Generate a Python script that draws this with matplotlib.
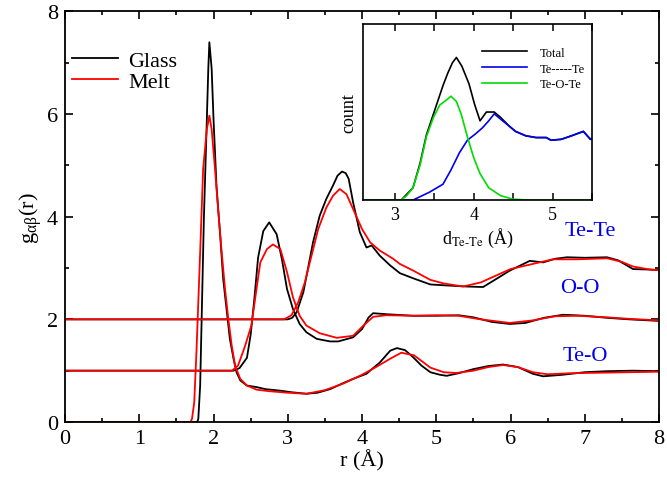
import matplotlib
matplotlib.use('Agg')
import matplotlib.pyplot as plt
from matplotlib.ticker import MultipleLocator

plt.rcParams['font.family'] = ['Liberation Serif', 'DejaVu Serif']
plt.rcParams['mathtext.fontset'] = 'stix'

# ---- main panel data: g(r) curves (O-O shifted by 1, Te-Te shifted by 2) ----
teo_glass_r = [0, 1.78, 1.795, 1.82, 1.84, 1.87, 1.91, 1.93, 1.944, 1.975, 2.0, 2.04, 2.09, 2.13,
               2.18, 2.22, 2.27, 2.31, 2.36, 2.45, 2.58, 2.7, 2.9, 3.05, 3.25, 3.4, 3.57, 3.75, 3.88,
               4.06, 4.24, 4.38, 4.47, 4.58, 4.69, 4.8, 4.92, 5.05, 5.14, 5.3, 5.5, 5.7, 5.9, 6.1,
               6.3, 6.44, 6.7, 7.0, 7.3, 7.65, 8.0]
teo_glass_g = [0, 0, 0.06, 0.71, 2.0, 3.96, 5.9, 6.9, 7.40, 6.88, 5.9, 4.6, 3.63, 2.79,
               2.14, 1.62, 1.23, 0.97, 0.81, 0.71, 0.68, 0.64, 0.61, 0.58, 0.55, 0.57, 0.64, 0.76, 0.84,
               0.94, 1.16, 1.39, 1.44, 1.40, 1.26, 1.10, 0.97, 0.92, 0.90, 0.95, 1.03, 1.09, 1.12, 1.07,
               0.94, 0.89, 0.92, 0.97, 0.99, 1.0, 0.99]
teo_melt_r = [0, 1.69, 1.71, 1.74, 1.77, 1.82, 1.86, 1.91, 1.944, 1.975, 2.02, 2.065, 2.11, 2.155,
              2.2, 2.245, 2.29, 2.36, 2.45, 2.58, 2.75, 3.0, 3.25, 3.5, 3.75, 4.0, 4.2, 4.4, 4.53,
              4.7, 4.92, 5.1, 5.27, 5.5, 5.7, 5.9, 6.1, 6.3, 6.5, 6.8, 7.2, 7.6, 8.0]
teo_melt_g = [0, 0, 0.06, 0.38, 1.36, 3.31, 4.93, 5.7, 5.97, 5.7, 4.93, 4.09, 3.31, 2.59,
              2.0, 1.49, 1.10, 0.84, 0.71, 0.63, 0.60, 0.57, 0.55, 0.62, 0.75, 0.92, 1.08, 1.25, 1.35,
              1.30, 1.06, 0.97, 0.955, 1.0, 1.07, 1.11, 1.07, 0.97, 0.93, 0.95, 0.96, 0.97, 0.98]

oo_glass_r = [0, 2.27, 2.35, 2.45, 2.50, 2.55, 2.60, 2.67, 2.75, 2.85, 2.92, 2.99, 3.07, 3.16,
              3.25, 3.39, 3.57, 3.68, 3.88, 4.0, 4.09, 4.15, 4.33, 4.69, 5.0, 5.3, 5.5, 5.75, 5.99,
              6.2, 6.45, 6.71, 7.0, 7.3, 7.6, 8.0]
oo_glass_g = [1, 1.0, 1.05, 1.25, 1.7, 2.4, 3.2, 3.72, 3.89, 3.66, 3.18, 2.59, 2.20, 1.91,
              1.75, 1.62, 1.57, 1.57, 1.65, 1.81, 2.04, 2.12, 2.10, 2.07, 2.07, 2.08, 2.04, 1.95, 1.91,
              1.93, 2.03, 2.09, 2.07, 2.03, 2.0, 1.97]
oo_melt_r = [0, 2.25, 2.33, 2.42, 2.51, 2.57, 2.63, 2.72, 2.80, 2.90, 2.99, 3.07, 3.16, 3.25,
             3.43, 3.66, 3.88, 4.02, 4.15, 4.33, 4.7, 5.0, 5.3, 5.6, 5.99, 6.3, 6.6, 6.9, 7.3,
             7.6, 8.0]
oo_melt_g = [1, 1.0, 1.10, 1.46, 1.88, 2.5, 3.11, 3.37, 3.46, 3.37, 2.92, 2.43, 2.07, 1.88,
             1.73, 1.64, 1.68, 1.88, 2.05, 2.08, 2.07, 2.08, 2.07, 2.0, 1.93, 1.98, 2.06, 2.07, 2.04,
             2.01, 1.98]

tete_glass_r = [0, 3.0, 3.06, 3.12, 3.21, 3.28, 3.34, 3.43, 3.52, 3.61, 3.67, 3.73, 3.78, 3.82,
                3.88, 3.97, 4.06, 4.13, 4.24, 4.38, 4.51, 4.69, 4.92, 5.15, 5.41, 5.63, 5.8, 5.99,
                6.26, 6.44, 6.6, 6.76, 7.0, 7.3, 7.45, 7.65, 7.88, 8.0]
tete_glass_g = [2, 2.0, 2.03, 2.14, 2.53, 3.05, 3.50, 4.02, 4.35, 4.61, 4.80, 4.88, 4.85, 4.74,
                4.28, 3.70, 3.40, 3.44, 3.24, 3.05, 2.90, 2.80, 2.68, 2.66, 2.64, 2.63, 2.78, 2.95,
                3.14, 3.11, 3.18, 3.21, 3.20, 3.21, 3.15, 2.98, 2.97, 2.96]
tete_melt_r = [0, 2.95, 3.05, 3.14, 3.23, 3.32, 3.41, 3.52, 3.61, 3.70, 3.79, 3.88, 4.0, 4.11,
               4.24, 4.42, 4.51, 4.69, 4.92, 5.1, 5.36, 5.6, 5.8, 6.0, 6.3, 6.57, 6.9, 7.3, 7.5,
               7.65, 7.88, 8.0]
tete_melt_g = [2, 2.0, 2.08, 2.33, 2.72, 3.24, 3.76, 4.18, 4.41, 4.54, 4.44, 4.15, 3.76, 3.50,
               3.34, 3.18, 3.08, 2.95, 2.77, 2.70, 2.64, 2.72, 2.85, 2.98, 3.08, 3.17, 3.17, 3.19, 3.12,
               3.03, 2.97, 2.96]

# ---- inset data: distribution of Te-Te distances ----
total_d = [2.6, 3.08, 3.23, 3.32, 3.40, 3.49, 3.61, 3.67, 3.73, 3.78, 3.85, 3.94, 4.01, 4.08,
           4.16, 4.26, 4.34, 4.45, 4.53, 4.66, 4.79, 4.92, 4.98, 5.11, 5.24, 5.39, 5.48, 5.5]
total_c = [0, 0, 0.07, 0.21, 0.37, 0.49, 0.65, 0.72, 0.78, 0.81, 0.76, 0.66, 0.545, 0.45,
           0.50, 0.50, 0.47, 0.42, 0.39, 0.365, 0.355, 0.355, 0.34, 0.345, 0.365, 0.39, 0.345, 0.35]
bridge_d = [2.6, 3.08, 3.15, 3.23, 3.32, 3.40, 3.49, 3.57, 3.66, 3.71, 3.78, 3.84, 3.91, 4.0,
            4.08, 4.19, 4.34, 4.5, 4.7, 5.5]
bridge_c = [0, 0.0, 0.025, 0.07, 0.20, 0.36, 0.47, 0.54, 0.57, 0.59, 0.56, 0.49, 0.375, 0.24,
            0.15, 0.07, 0.025, 0.005, 0, 0]
direct_d = [2.6, 3.23, 3.44, 3.61, 3.71, 3.82, 3.92, 4.02, 4.11, 4.19, 4.26, 4.34, 4.45, 4.53,
            4.66, 4.79, 4.92, 4.98, 5.11, 5.24, 5.39, 5.48, 5.5]
direct_c = [0, 0, 0.045, 0.09, 0.17, 0.27, 0.34, 0.375, 0.41, 0.45, 0.49, 0.46, 0.42, 0.39,
            0.365, 0.355, 0.355, 0.34, 0.345, 0.365, 0.39, 0.345, 0.35]

fig = plt.figure(figsize=(6.67, 4.81), dpi=100)
ax = fig.add_axes([0.0975, 0.1206, 0.8905, 0.8535])

lw = 1.3
ax.plot(teo_glass_r, teo_glass_g, color='black', lw=lw, label='Glass')
ax.plot(oo_glass_r, oo_glass_g, color='black', lw=lw)
ax.plot(tete_glass_r, tete_glass_g, color='black', lw=lw)
ax.plot(teo_melt_r, teo_melt_g, color='red', lw=lw, label='Melt')
ax.plot(oo_melt_r, oo_melt_g, color='red', lw=lw)
ax.plot(tete_melt_r, tete_melt_g, color='red', lw=lw)

ax.set_xlim(0, 8)
ax.set_ylim(0, 8)
ax.xaxis.set_major_locator(MultipleLocator(1))
ax.xaxis.set_minor_locator(MultipleLocator(0.5))
ax.yaxis.set_major_locator(MultipleLocator(2))
ax.yaxis.set_minor_locator(MultipleLocator(1))
ax.tick_params(which='both', direction='in', top=True, right=True, labelsize=16, width=1.2)
ax.tick_params(which='major', length=6, pad=5)
ax.tick_params(which='minor', length=3)
for s in ax.spines.values():
    s.set_linewidth(1.3)
ax.set_xlabel('r (Å)', fontsize=16, labelpad=1)
ax.set_ylabel(r'g$_\mathregular{αβ}$(r)', fontsize=16, labelpad=2)

ax.legend(loc='upper left', bbox_to_anchor=(-0.015, 0.944), frameon=False, fontsize=16,
          handlelength=2.1, handletextpad=0.45, labelspacing=0.02, borderaxespad=0.3)

ax.text(7.08, 3.74, 'Te-Te', color='#0000ee', fontsize=16, ha='center', va='center')
ax.text(6.94, 2.63, 'O-O', color='#0000ee', fontsize=16, ha='center', va='center')
ax.text(7.0, 1.29, 'Te-O', color='#0000ee', fontsize=16, ha='center', va='center')

# inset
ins = fig.add_axes([0.5447, 0.582, 0.3429, 0.366])
ins.plot(total_d, total_c, color='black', lw=1.2, label='Total')
ins.plot(direct_d, direct_c, color='#0000ee', lw=1.2, label='Te-----Te')
ins.plot(bridge_d, bridge_c, color='#00dd00', lw=1.2, label='Te-O-Te')
ins.set_xlim(2.6, 5.5)
ins.set_ylim(0, 1.0)
ins.xaxis.set_major_locator(MultipleLocator(1))
ins.xaxis.set_minor_locator(MultipleLocator(0.5))
ins.set_yticks([])
ins.tick_params(which='both', direction='in', top=True, labelsize=13, width=1.1, length=5)
ins.tick_params(which='major', pad=4)
for s in ins.spines.values():
    s.set_linewidth(1.2)
ins.set_xlabel(r'd$_{\text{Te-Te}}$ (Å)', fontsize=13, labelpad=2)
ins.set_ylabel('count', fontsize=13, labelpad=4)
ins.legend(loc='upper right', bbox_to_anchor=(1.0, 0.913), frameon=False, fontsize=9,
           handlelength=3.6, handletextpad=1.0, labelspacing=0.3, borderaxespad=0.2)

fig.savefig('out.png', dpi=100)
